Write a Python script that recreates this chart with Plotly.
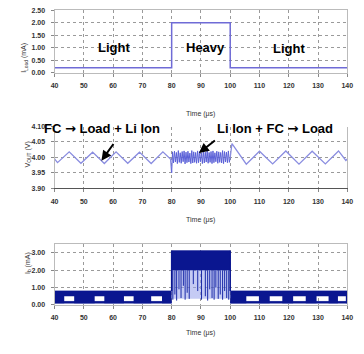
import numpy as np
import plotly.graph_objects as go

# ---------------- data ----------------
time_ticks = [40, 50, 60, 70, 80, 90, 100, 110, 120, 130, 140]

# Load current profile (mA)
load_t = [40, 80, 80, 100, 100, 140]
load_i = [0.2, 0.2, 2.0, 2.0, 0.2, 0.2]

# Output voltage (V): slow ripple in light-load intervals
vout_left_t = [40, 41, 45, 49, 53, 57, 61, 65, 69, 73, 77, 79.6, 80]
vout_left_v = [3.995, 3.983, 4.018, 3.981, 4.017, 3.980, 4.018, 3.981, 4.017, 3.980, 4.018, 3.995, 3.950]
vout_right_t = [100, 100.6, 105.5, 110, 114.5, 119, 123.5, 128, 132.5, 137, 139.5, 140]
vout_right_v = [4.000, 4.045, 3.978, 4.020, 3.979, 4.021, 3.978, 4.020, 3.979, 4.021, 3.990, 3.995]
# fast ripple while the Li-Ion cell assists during heavy load
vout_dense_v = [4.018, 3.982, 4.020, 3.985, 4.016, 3.980, 4.022, 3.984, 4.015, 3.981,
                4.019, 3.986, 4.021, 3.979, 4.017, 3.983, 4.020, 3.985, 4.014, 3.980,
                4.022, 3.982, 4.018, 3.984, 4.016, 3.981, 4.021, 3.983, 4.019, 3.986,
                4.015, 3.980, 4.020, 3.982, 4.017, 3.985, 4.022, 3.981, 4.016, 3.984,
                4.019, 3.980, 4.021, 3.983, 4.015, 3.986, 4.020, 3.981, 4.018, 3.984,
                4.016, 3.982, 4.022, 3.980, 4.019, 3.985, 4.017, 3.983, 4.021, 3.984]

# Battery current (mA): switching band limits
ib_light_top = 0.8
ib_floor_lo, ib_floor_hi = 0.08, 0.2
ib_light1_t = [40, 43.3, 43.3, 46.7, 46.7, 53.7, 53.7, 57, 57, 63.7, 63.7, 67, 67, 73, 73, 76.7, 76.7, 80]
ib_light1_lo = [0.1, 0.1, 0.5, 0.5, 0.1, 0.1, 0.5, 0.5, 0.1, 0.1, 0.5, 0.5, 0.1, 0.1, 0.5, 0.5, 0.1, 0.1]
ib_light2_t = [100, 105.5, 105.5, 109.8, 109.8, 113.5, 113.5, 117.8, 117.8, 121.5, 121.5, 125.8,
               125.8, 129.5, 129.5, 133.6, 133.6, 136.8, 136.8, 139.5, 139.5, 140]
ib_light2_lo = [0.1, 0.1, 0.5, 0.5, 0.1, 0.1, 0.5, 0.5, 0.1, 0.1, 0.5, 0.5,
                0.1, 0.1, 0.5, 0.5, 0.1, 0.1, 0.5, 0.5, 0.1, 0.1]
ib_heavy_t = [80, 100]
ib_heavy_top = 3.12
ib_heavy_mid = 2.0
ib_heavy_base = 0.35
ib_dip_t = [80.4, 81.1, 81.7, 82.5, 83.2, 84.0, 84.6, 85.3, 86.0, 87.4, 88.9, 90.2, 91.5,
            92.3, 93.0, 93.8, 94.5, 95.1, 95.9, 96.6, 97.4, 98.1, 98.8, 99.5]
ib_dip_v = [0.3, 0.6, 0.25, 0.9, 0.4, 1.1, 0.3, 0.7, 0.35, 1.2, 0.8, 0.3, 0.5,
            0.25, 0.9, 0.4, 0.3, 1.0, 0.35, 0.6, 0.3, 0.8, 0.4, 0.3]

# ---------------- figure ----------------
NAVY = "#0a1690"
fig = go.Figure()

# top: load current
fig.add_trace(go.Scatter(x=load_t, y=load_i, mode="lines", xaxis="x", yaxis="y",
                         line=dict(color="#6f6bd6", width=1.5), showlegend=False))

# middle: output voltage
fig.add_trace(go.Scatter(x=vout_left_t, y=vout_left_v, mode="lines", xaxis="x2", yaxis="y2",
                         line=dict(color="#8a8de0", width=1.3), showlegend=False))
dense_t = [80] + list(np.linspace(80.3, 99.7, len(vout_dense_v))) + [100]
dense_v = [vout_left_v[-1]] + vout_dense_v + [vout_right_v[0]]
fig.add_trace(go.Scatter(x=dense_t, y=dense_v, mode="lines", xaxis="x2", yaxis="y2",
                         line=dict(color="#5a60d8", width=1), showlegend=False))
fig.add_trace(go.Scatter(x=vout_right_t, y=vout_right_v, mode="lines", xaxis="x2", yaxis="y2",
                         line=dict(color="#8a8de0", width=1.3), showlegend=False))

# bottom: battery current
def band(t, lo, hi, color):
    fig.add_trace(go.Scatter(x=t, y=lo, mode="lines", xaxis="x3", yaxis="y3",
                             line=dict(color=color, width=0), showlegend=False))
    fig.add_trace(go.Scatter(x=t, y=hi, mode="lines", xaxis="x3", yaxis="y3", fill="tonexty",
                             fillcolor=color, line=dict(color=color, width=0.8), showlegend=False))

for seg_t, seg_lo in [(ib_light1_t, ib_light1_lo), (ib_light2_t, ib_light2_lo)]:
    band([seg_t[0], seg_t[-1]], [ib_floor_lo] * 2, [ib_floor_hi] * 2, NAVY)
    band(seg_t, seg_lo, [ib_light_top] * len(seg_t), NAVY)

band(ib_heavy_t, [ib_heavy_base] * 2, [ib_heavy_mid] * 2, "rgba(150,160,235,0.55)")
band(ib_heavy_t, [ib_heavy_mid] * 2, [ib_heavy_top] * 2, NAVY)

dip_x, dip_y = [], []
for t, v in zip(ib_dip_t, ib_dip_v):
    dip_x += [t, t, None]
    dip_y += [ib_heavy_mid, v, None]
fig.add_trace(go.Scatter(x=dip_x, y=dip_y, mode="lines", xaxis="x3", yaxis="y3",
                         line=dict(color="#1a2aa8", width=1), showlegend=False))
fig.add_trace(go.Scatter(x=[80, 80, None, 100, 100], y=[ib_light_top, ib_heavy_top, None, ib_heavy_top, ib_light_top],
                         mode="lines", xaxis="x3", yaxis="y3",
                         line=dict(color=NAVY, width=1.5), showlegend=False))

# ---------------- axes ----------------
W, H = 364, 354
x_dom = [52 / W, 353 / W]
tickfont = dict(family="Liberation Sans, Arial", size=7, color="#333333", weight="bold")

def xax(anchor, linecolor="#bbbbbb", mirror=True):
    return dict(domain=x_dom, anchor=anchor, range=[40, 140], tickvals=time_ticks,
                ticks="outside", ticklen=3, tickcolor="#888888", tickfont=tickfont,
                ticklabelstandoff=3, showgrid=True, gridcolor="#9a9a9a", griddash="dot",
                gridwidth=1, showline=True, linecolor=linecolor, mirror=mirror, zeroline=False)

def yax(anchor, dom, rng, vals, fmt):
    return dict(domain=[1 - dom[1] / H, 1 - dom[0] / H], anchor=anchor, range=rng,
                tickvals=vals, ticktext=[fmt.format(v) for v in vals],
                ticks="outside", ticklen=3, tickcolor="#888888", tickfont=tickfont,
                ticklabelstandoff=4, showgrid=True, gridcolor="#9a9a9a", griddash="dot",
                gridwidth=1, showline=True, linecolor="#bbbbbb", mirror=True, zeroline=False)

fig.update_layout(
    width=W, height=H, margin=dict(l=0, r=0, t=0, b=0),
    paper_bgcolor="white", plot_bgcolor="white", showlegend=False,
    xaxis=xax("y"), xaxis2=xax("y2", "#555555", False), xaxis3=xax("y3"),
    yaxis=yax("x", [6, 70], [0, 2.52], [0, 0.5, 1.0, 1.5, 2.0, 2.5], "{:.2f}"),
    yaxis2=yax("x2", [125, 188], [3.90, 4.10], [3.90, 3.95, 4.00, 4.05, 4.10], "{:.2f}"),
    yaxis3=yax("x3", [245, 307], [0, 3.5], [0, 1, 2, 3], "{:.2f}"),
)

# ---------------- text ----------------
def px(x, y):
    return x / W, 1 - y / H

ann = []
small = dict(family="Liberation Sans, Arial", size=7, color="#333333")
for yc in [106, 220, 342]:
    x0, y0 = px(202, yc)
    ann.append(dict(text="Time (μs)", x=x0, y=y0, xref="paper", yref="paper",
                    showarrow=False, font=small))
for label, xc, yc in [("I<sub>Load</sub> (mA)", 15, 38), ("V<sub>OUT</sub> (V)", 18, 154),
                      ("I<sub>b</sub> (mA)", 18, 278)]:
    x0, y0 = px(xc, yc)
    ann.append(dict(text=label, x=x0, y=y0, xref="paper", yref="paper", textangle=-90,
                    showarrow=False, font=small))

big = dict(family="Liberation Sans, Arial", size=13, color="black")
for label, t, v in [("Light", 60.3, 1.0), ("Heavy", 91.7, 1.02), ("Light", 120, 0.95)]:
    ann.append(dict(text="<b>%s</b>" % label, x=t, y=v, xref="x", yref="y",
                    showarrow=False, font=big))

ARROW = '<span style="font-family:DejaVu Sans">→</span>'
x0, y0 = px(39, 127)
ann.append(dict(text="<b>FC %s Load + Li Ion</b>" % ARROW, x=x0, y=y0, xref="paper", yref="paper",
                xanchor="left", showarrow=False, font=big))
x0, y0 = px(217, 127)
ann.append(dict(text="<b>Li Ion + FC %s Load</b>" % ARROW, x=x0, y=y0, xref="paper", yref="paper",
                xanchor="left", showarrow=False, font=big))
ann.append(dict(text=" ", x=56, y=3.989, xref="x2", yref="y2", showarrow=True,
                ax=15, ay=-21, arrowhead=2, arrowsize=1, arrowwidth=2, arrowcolor="black"))
ann.append(dict(text=" ", x=89.3, y=4.014, xref="x2", yref="y2", showarrow=True,
                ax=19, ay=-15, arrowhead=2, arrowsize=1, arrowwidth=2, arrowcolor="black"))

fig.update_layout(annotations=ann)
fig.write_html("out.html")
